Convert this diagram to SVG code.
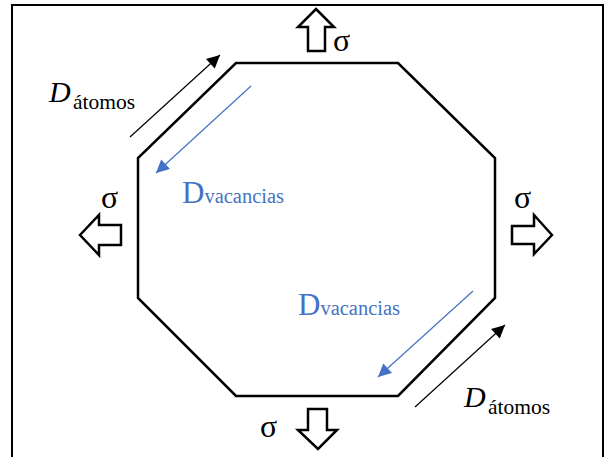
<svg xmlns="http://www.w3.org/2000/svg" width="605" height="457" viewBox="0 0 605 457">
<style>
.blk{fill:#fff;stroke:#000;stroke-width:2.5;stroke-linejoin:miter}
.sig{font-family:"Liberation Serif",serif;font-size:32px;fill:#000}
.dI{font-family:"Liberation Serif",serif;font-style:italic;font-size:30px;fill:#000}
.sub{font-family:"Liberation Serif",serif;font-size:21.5px;fill:#000}
.dv{font-family:"Liberation Serif",serif;font-size:31px;fill:#4472C4}
.dvs{font-family:"Liberation Serif",serif;font-size:20.5px;fill:#4472C4}
</style>
<defs>
<marker id="ab" viewBox="0 0 10 10" refX="10" refY="5" markerWidth="17" markerHeight="13" markerUnits="userSpaceOnUse" orient="auto"><path d="M0,0L10,5L0,10z" fill="#000"/></marker>
<marker id="abl" viewBox="0 0 10 10" refX="10" refY="5" markerWidth="18" markerHeight="13" markerUnits="userSpaceOnUse" orient="auto"><path d="M0,0L10,5L0,10z" fill="#4472C4"/></marker>
</defs>
<rect width="605" height="457" fill="#fff"/>
<rect id="frame" x="12" y="5" width="591" height="470" fill="none" stroke="#000" stroke-width="2"/>
<g id="grain">
<polygon points="236,63 398,63 495,158 495,298 398,396 236,396 138,298 138,158" fill="none" stroke="#000" stroke-width="2.5"/>
</g>
<g id="stress-top">
<polygon class="blk" points="316,9 334,27 325,27 325,51 308,51 308,27 298,27"/>
<text class="sig" x="333" y="51">σ</text>
</g>
<g id="stress-bottom">
<polygon class="blk" points="308,409 327,409 327,430 337,430 318,449 298,430 308,430"/>
<text class="sig" x="260" y="437">σ</text>
</g>
<g id="stress-left">
<polygon class="blk" points="80,235 99,215 99,225 121,225 121,245 99,245 99,255"/>
<text class="sig" x="101" y="208">σ</text>
</g>
<g id="stress-right">
<polygon class="blk" points="552,235 534,215 534,226 512,226 512,244 534,244 534,254"/>
<text class="sig" x="514" y="208">σ</text>
</g>
<g id="connectors">
<line x1="130" y1="137" x2="220" y2="55" stroke="#000" stroke-width="1.2" marker-end="url(#ab)"/>
<line x1="415" y1="407" x2="505" y2="325" stroke="#000" stroke-width="1.2" marker-end="url(#ab)"/>
<line x1="251" y1="86" x2="156" y2="173" stroke="#4472C4" stroke-width="1.2" marker-end="url(#abl)"/>
<line x1="473" y1="291" x2="378" y2="377" stroke="#4472C4" stroke-width="1.2" marker-end="url(#abl)"/>
</g>
<g id="label-datomos-1"><text x="49" y="102"><tspan class="dI">D</tspan><tspan class="sub" x="73" y="109">átomos</tspan></text></g>
<g id="label-datomos-2"><text x="464" y="407"><tspan class="dI">D</tspan><tspan class="sub" x="488" y="414">átomos</tspan></text></g>
<g id="label-dvac-1"><text x="182" y="203"><tspan class="dv">D</tspan><tspan class="dvs">vacancias</tspan></text></g>
<g id="label-dvac-2"><text x="298" y="315"><tspan class="dv">D</tspan><tspan class="dvs">vacancias</tspan></text></g>
</svg>
